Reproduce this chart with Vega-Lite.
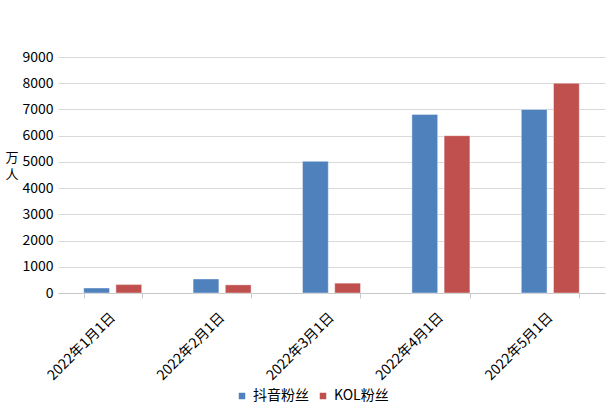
{
  "$schema": "https://vega.github.io/schema/vega-lite/v6.json",
  "autosize": "none",
  "width": 547,
  "height": 236,
  "padding": {"left": 58, "top": 57, "right": 9, "bottom": 127},
  "background": "white",
  "config": {
    "font": "Noto Sans CJK SC",
    "view": {"stroke": null},
    "axis": {"labelFont": "Noto Sans CJK SC", "titleFont": "Noto Sans CJK SC", "labelColor": "#000000", "titleColor": "#000000"},
    "legend": {"labelFont": "Noto Sans CJK SC"}
  },
  "data": {
    "values": [
      {"date": "2022年1月1日", "series": "抖音粉丝", "value": 190},
      {"date": "2022年1月1日", "series": "KOL粉丝", "value": 320},
      {"date": "2022年2月1日", "series": "抖音粉丝", "value": 535},
      {"date": "2022年2月1日", "series": "KOL粉丝", "value": 310},
      {"date": "2022年3月1日", "series": "抖音粉丝", "value": 5020},
      {"date": "2022年3月1日", "series": "KOL粉丝", "value": 375},
      {"date": "2022年4月1日", "series": "抖音粉丝", "value": 6810},
      {"date": "2022年4月1日", "series": "KOL粉丝", "value": 6000},
      {"date": "2022年5月1日", "series": "抖音粉丝", "value": 7000},
      {"date": "2022年5月1日", "series": "KOL粉丝", "value": 8000}
    ]
  },
  "mark": {"type": "bar", "stroke": "white", "strokeWidth": 0.8, "strokeOpacity": 0.5},
  "encoding": {
    "x": {
      "field": "date", "type": "nominal", "sort": null,
      "scale": {"paddingInner": 0.47, "paddingOuter": 0.235},
      "axis": {
        "title": null, "labelAngle": -45, "labelAlign": "right", "labelBaseline": "middle",
        "labelFontSize": 14, "labelPadding": 17, "tickBand": "extent", "tickSize": 5,
        "tickColor": "#c8c8c8", "domainColor": "#c8c8c8", "grid": false
      }
    },
    "xOffset": {"field": "series", "type": "nominal", "sort": ["抖音粉丝", "KOL粉丝"], "scale": {"paddingInner": 0.2}},
    "y": {
      "field": "value", "type": "quantitative",
      "scale": {"domain": [0, 9000], "nice": false},
      "axis": {
        "values": [0, 1000, 2000, 3000, 4000, 5000, 6000, 7000, 8000, 9000], "format": "d",
        "title": ["万", "人"], "titleAngle": 0, "titleFontSize": 13, "titleFontWeight": "normal",
        "titleX": -53, "titleY": 100, "titleAlign": "left", "titleBaseline": "middle", "titleLineHeight": 17,
        "labelFontSize": 14, "labelPadding": 5, "ticks": false, "domain": false,
        "gridColor": "#d9d9d9", "gridWidth": 1
      }
    },
    "color": {
      "field": "series", "type": "nominal",
      "scale": {"domain": ["抖音粉丝", "KOL粉丝"], "range": ["#4f81bd", "#c0504d"]},
      "legend": {
        "title": null, "orient": "none", "direction": "horizontal", "legendX": 177, "legendY": 332,
        "symbolType": "square", "symbolSize": 64, "labelFontSize": 14, "labelOffset": 4, "columnPadding": 7, "symbolOpacity": 1
      }
    }
  }
}
